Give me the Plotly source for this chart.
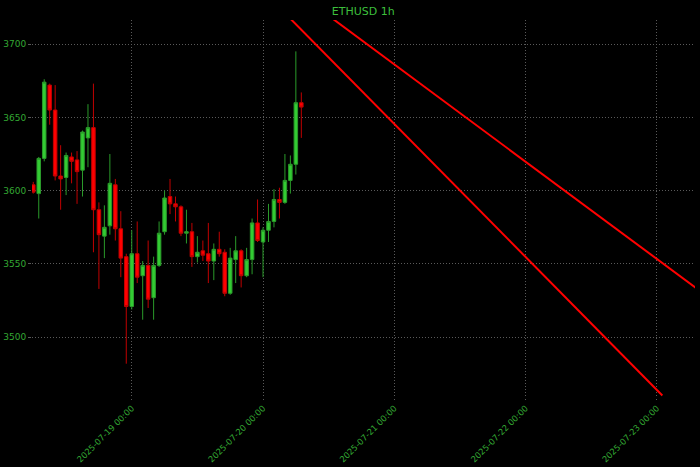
import pandas as pd
import plotly.graph_objects as go

# ---- data ----
start_time = "2025-07-18 06:00"
n_candles = 50
opens = [3604, 3598, 3622, 3672, 3655, 3610, 3609, 3623, 3621, 3614,
         3636, 3643, 3587, 3569, 3576, 3604, 3574, 3555, 3521, 3557,
         3542, 3549, 3527, 3549, 3572, 3596, 3591, 3589, 3571, 3572,
         3555, 3559, 3557, 3552, 3560, 3558, 3530, 3553, 3559, 3542,
         3553, 3578, 3565, 3573, 3579, 3594, 3592, 3607, 3618, 3660]
highs = [3606, 3623, 3676, 3673, 3672, 3631, 3626, 3626, 3627, 3641,
         3659, 3673, 3592, 3590, 3625, 3608, 3586, 3557, 3573, 3579,
         3552, 3566, 3555, 3579, 3600, 3608, 3596, 3590, 3587, 3578,
         3569, 3566, 3578, 3564, 3572, 3560, 3561, 3569, 3560, 3561,
         3581, 3594, 3575, 3591, 3601, 3602, 3625, 3624, 3695, 3667]
lows = [3598, 3581, 3620, 3645, 3607, 3587, 3597, 3605, 3591, 3596,
        3616, 3558, 3533, 3554, 3570, 3566, 3541, 3482, 3519, 3537,
        3512, 3520, 3512, 3548, 3570, 3584, 3579, 3569, 3564, 3548,
        3551, 3552, 3537, 3539, 3555, 3528, 3529, 3537, 3534, 3541,
        3543, 3565, 3541, 3565, 3575, 3581, 3591, 3598, 3611, 3636]
closes = [3599, 3622, 3674, 3655, 3610, 3608, 3624, 3620, 3613, 3640,
          3643, 3587, 3570, 3575, 3605, 3574, 3554, 3521, 3557, 3541,
          3549, 3526, 3549, 3571, 3595, 3591, 3589, 3571, 3572, 3555,
          3558, 3556, 3552, 3560, 3557, 3530, 3554, 3559, 3542, 3553,
          3578, 3566, 3573, 3579, 3594, 3592, 3607, 3618, 3660, 3657]

# trend lines (endpoints)
line1_times = ["2025-07-20 00:00", "2025-07-23 01:00"]
line1_prices = [3736.2, 3460.3]
line2_times = ["2025-07-20 12:00", "2025-07-23 08:00"]
line2_prices = [3719.3, 3531.3]

x_range = ["2025-07-18 05:46", "2025-07-23 06:58"]
y_range = [3458.6, 3716.4]
x_ticks = ["2025-07-19 00:00", "2025-07-20 00:00", "2025-07-21 00:00",
           "2025-07-22 00:00", "2025-07-23 00:00"]
y_ticks = [3500, 3550, 3600, 3650, 3700]

times = pd.date_range(start_time, periods=n_candles, freq="h")

GREEN_TXT = "#33a833"
GRID = "#5a5a5a"
fig = go.Figure()
fig.add_trace(go.Candlestick(
    x=times, open=opens, high=highs, low=lows, close=closes,
    increasing=dict(fillcolor="#33cc33", line=dict(color="#2a9a2a", width=1)),
    decreasing=dict(fillcolor="#ff0000", line=dict(color="#c00000", width=1)),
    showlegend=False, whiskerwidth=0,
))
fig.add_trace(go.Scatter(x=line1_times, y=line1_prices, mode="lines",
                         line=dict(color="#ff0000", width=2), showlegend=False))
fig.add_trace(go.Scatter(x=line2_times, y=line2_prices, mode="lines",
                         line=dict(color="#ff0000", width=2), showlegend=False))

fig.update_layout(
    width=700, height=467,
    paper_bgcolor="#000000", plot_bgcolor="#000000",
    margin=dict(l=32, r=5, t=20, b=69),
    boxgap=0.08,
    title=dict(text="ETHUSD 1h", x=0.519, xanchor="center", y=0.977, yanchor="middle",
               font=dict(family="DejaVu Sans", size=11, color="#3cbf3c")),
    font=dict(family="DejaVu Sans", size=9, color=GREEN_TXT),
    showlegend=False,
)
fig.update_xaxes(
    type="date", range=x_range, rangeslider=dict(visible=False),
    tickvals=x_ticks, ticktext=x_ticks, tickangle=-45, automargin=False,
    showgrid=True, gridcolor=GRID, griddash="1px,2px", gridwidth=1,
    ticks="outside", ticklen=1, tickcolor=GRID,
    showline=False, zeroline=False,
    tickfont=dict(size=8.5, color=GREEN_TXT),
)
fig.update_yaxes(
    range=y_range, tickvals=y_ticks, automargin=False,
    showgrid=True, gridcolor=GRID, griddash="1px,2px", gridwidth=1,
    ticks="outside", ticklen=3, tickcolor=GRID,
    showline=False, zeroline=False,
    tickfont=dict(size=9, color=GREEN_TXT),
)

fig.write_html("out.html", config={"displayModeBar": False},
               post_script="document.body.style.margin='0';document.body.style.background='#000';")
